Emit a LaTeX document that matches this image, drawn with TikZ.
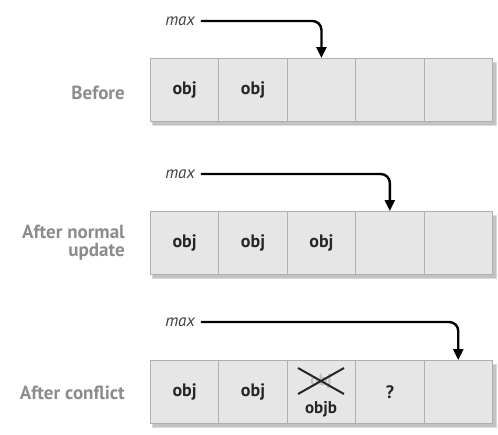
\documentclass[tikz,border=0pt]{standalone}
\usepackage{fontspec}
\setmainfont{PT Sans}
\usetikzlibrary{arrows.meta}
\definecolor{cellfill}{HTML}{E6E6E6}
\definecolor{cellline}{HTML}{AFAFAF}
\definecolor{labelgray}{HTML}{8C8C8C}
\definecolor{objtext}{HTML}{262626}
\tikzset{
  cell/.style={draw=cellline, fill=cellfill, line width=0.9pt, minimum width=68.4pt, minimum height=63pt, inner sep=0pt, anchor=north west, font=\bfseries\fontsize{18}{20}\selectfont, text=objtext},
  rowlabel/.style={anchor=east, align=right, text=labelgray, font=\bfseries\fontsize{19}{18}\selectfont, inner sep=0pt},
  maxlabel/.style={font=\itshape\fontsize{17}{18}\selectfont, text=black!75, inner sep=0pt},
  ptr/.style={line width=2.4pt, rounded corners=9pt, -{Triangle[length=11pt,width=10pt]}},
  crossx/.style={line width=2pt, black!85},
}
\begin{document}
\begin{tikzpicture}[x=1pt,y=-1pt]
\useasboundingbox (0,0) rectangle (498,434);
% shadows
\foreach \top in {58,211,360}{
  \fill[black!14] (152,\top+4) rectangle (497,\top+68);
  \fill[black!24] (153,\top+5) rectangle (495.5,\top+66.5);
}
% row 1
\foreach \i/\t in {1/obj,2/obj,3/{},4/{},5/{}}{
  \node[cell] (a\i) at ({150+(\i-1)*68.4},58) {\t};
}
% row 2
\foreach \i/\t in {1/obj,2/obj,3/obj,4/{},5/{}}{
  \node[cell] (b\i) at ({150+(\i-1)*68.4},211) {\t};
}
% row 3
\foreach \i/\t in {1/obj,2/obj,3/{},4/?,5/{}}{
  \node[cell] (c\i) at ({150+(\i-1)*68.4},360) {\t};
}
% crossed entry
\node[text=black!25, font=\bfseries\fontsize{16}{16}\selectfont, inner sep=0pt] (old) at (321,381) {obj};
\draw[crossx] (298,368) -- (344,394);
\draw[crossx] (298,394) -- (344,368);
\node[text=objtext, font=\bfseries\fontsize{17}{18}\selectfont, inner sep=0pt] (objb) at (321,409) {objb};
% row labels
\node[rowlabel] (l1) at (125,93) {Before};
\node[rowlabel] (l2) at (125,243) {After normal\\update};
\node[rowlabel] (l3) at (125,393) {After conflict};
% max labels and pointers
\node[maxlabel] (m1) at (180,21) {max};
\node[maxlabel] (m2) at (180,174) {max};
\node[maxlabel] (m3) at (180,322) {max};
\draw[ptr] ([xshift=6pt]m1.east) -| (a3.north);
\draw[ptr] ([xshift=6pt]m2.east) -| (b4.north);
\draw[ptr] ([xshift=6pt]m3.east) -| (c5.north);
\end{tikzpicture}
\end{document}
